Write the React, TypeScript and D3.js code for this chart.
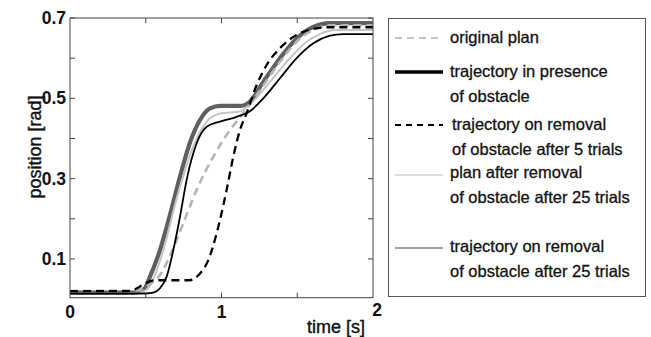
import * as d3 from 'd3';
import React, { useRef, useEffect } from 'react';

// time [s] / position [rad]
const planOriginalT = [0, 0.45, 0.52, 0.594, 0.66, 0.748, 0.836, 0.946, 1.056, 1.144, 1.232, 1.386, 1.496, 1.628, 1.72, 2.0];
const planOriginalV = [0.020, 0.022, 0.035, 0.060, 0.108, 0.189, 0.272, 0.355, 0.421, 0.463, 0.508, 0.591, 0.641, 0.674, 0.682, 0.682];

const trajObstacleT = [0, 0.50, 0.55, 0.594, 0.638, 0.682, 0.726, 0.77, 0.836, 0.902, 0.99, 1.1, 1.188, 1.276, 1.386, 1.496, 1.606, 1.716, 1.80, 2.0];
const trajObstacleV = [0.014, 0.014, 0.016, 0.027, 0.056, 0.122, 0.205, 0.297, 0.388, 0.429, 0.442, 0.454, 0.468, 0.500, 0.550, 0.600, 0.637, 0.656, 0.660, 0.660];

const trajFiveT = [0, 0.40, 0.46, 0.506, 0.56, 0.79, 0.858, 0.913, 0.968, 1.034, 1.078, 1.122, 1.166, 1.232, 1.298, 1.386, 1.496, 1.606, 1.70, 2.0];
const trajFiveV = [0.020, 0.020, 0.031, 0.041, 0.047, 0.047, 0.064, 0.097, 0.164, 0.272, 0.355, 0.421, 0.463, 0.533, 0.583, 0.625, 0.658, 0.673, 0.677, 0.677];

const planTwentyFiveT = [0, 0.44, 0.51, 0.55, 0.616, 0.70, 0.814, 0.902, 0.99, 1.122, 1.188, 1.32, 1.452, 1.562, 1.65, 1.75, 2.0];
const planTwentyFiveV = [0.015, 0.015, 0.025, 0.050, 0.122, 0.245, 0.380, 0.442, 0.462, 0.467, 0.485, 0.541, 0.600, 0.641, 0.660, 0.670, 0.670];

const trajTwentyFiveT = [0, 0.42, 0.49, 0.528, 0.594, 0.66, 0.726, 0.792, 0.858, 0.924, 0.99, 1.122, 1.188, 1.276, 1.386, 1.496, 1.606, 1.716, 2.0];
const trajTwentyFiveV = [0.016, 0.016, 0.025, 0.056, 0.122, 0.21, 0.305, 0.390, 0.446, 0.475, 0.481, 0.481, 0.492, 0.541, 0.600, 0.649, 0.678, 0.687, 0.687];

const yTickLabels = [0.1, 0.3, 0.5, 0.7];
const yTicks = [0.1, 0.2, 0.3, 0.4, 0.5, 0.6, 0.7];
const xTickLabels = [0, 1, 2];
const xTicks = [0.5, 1, 1.5];

const legendLabels = [
    ['original plan'],
    ['trajectory in presence', 'of obstacle'],
    ['trajectory on removal', 'of obstacle after 5 trials'],
    ['plan after removal', 'of obstacle after 25 trials'],
    ['trajectory on removal', 'of obstacle after 25 trials'],
];

function App() {
    const ref = useRef();
    const width = 651, height = 337;
    const margin = { top: 18, right: 278, bottom: 39.3, left: 70 };
    const font = '"Liberation Sans", Arial, sans-serif';

    useEffect(() => {
        draw();
    });

    const draw = () => {
        const svg = d3.select(ref.current)
            .attr('width', width)
            .attr('height', height);
        svg.selectAll('*').remove();

        const x = d3.scaleLinear().domain([0, 2]).range([margin.left, width - margin.right]);
        const y = d3.scaleLinear().domain([0.0035, 0.7]).range([height - margin.bottom, margin.top]);
        const x0 = x.range()[0], x1 = x.range()[1];
        const y0 = y.range()[0], y1 = y.range()[1];

        // series: order = drawing order
        const series = [
            { t: trajTwentyFiveT, v: trajTwentyFiveV, stroke: '#5f5f5f', w: 4.2, dash: null },
            { t: planTwentyFiveT, v: planTwentyFiveV, stroke: '#c4c4c4', w: 2, dash: null },
            { t: planOriginalT, v: planOriginalV, stroke: '#b4b4b4', w: 2.6, dash: '8,5' },
            { t: trajObstacleT, v: trajObstacleV, stroke: '#000', w: 1.8, dash: null },
            { t: trajFiveT, v: trajFiveV, stroke: '#000', w: 2.3, dash: '8,5' },
        ];

        const line = d3.line()
            .x(d => x(d[0]))
            .y(d => y(d[1]))
            .curve(d3.curveMonotoneX);

        const plot = svg.append('g');
        plot.append('defs').append('clipPath').attr('id', 'clip')
            .append('rect').attr('x', x0).attr('y', y1 - 3).attr('width', x1 - x0).attr('height', y0 - y1 + 3);

        series.forEach(s => {
            plot.append('path')
                .attr('d', line(s.t.map((t, i) => [t, s.v[i]])))
                .attr('fill', 'none')
                .attr('stroke', s.stroke)
                .attr('stroke-width', s.w)
                .attr('stroke-dasharray', s.dash)
                .attr('clip-path', 'url(#clip)');
        });

        // frame + inward ticks
        plot.append('rect')
            .attr('x', x0).attr('y', y1)
            .attr('width', x1 - x0).attr('height', y0 - y1)
            .attr('fill', 'none').attr('stroke', '#444').attr('stroke-width', 1);

        const tk = 5;
        yTicks.forEach(v => {
            plot.append('line').attr('x1', x0).attr('x2', x0 + tk).attr('y1', y(v)).attr('y2', y(v)).attr('stroke', '#444');
            plot.append('line').attr('x1', x1).attr('x2', x1 - tk).attr('y1', y(v)).attr('y2', y(v)).attr('stroke', '#444');
        });
        xTicks.forEach(t => {
            plot.append('line').attr('x1', x(t)).attr('x2', x(t)).attr('y1', y0).attr('y2', y0 - tk).attr('stroke', '#444');
            plot.append('line').attr('x1', x(t)).attr('x2', x(t)).attr('y1', y1).attr('y2', y1 + tk).attr('stroke', '#444');
        });

        const labels = svg.append('g')
            .style('font-family', font)
            .attr('fill', '#111');

        labels.selectAll('.ytl')
            .data(yTickLabels)
            .enter().append('text')
            .attr('class', 'ytl')
            .attr('x', x0 - 4)
            .attr('y', d => y(d) + 6)
            .attr('text-anchor', 'end')
            .style('font-size', '17.5px')
            .style('font-weight', 'bold')
            .text(d => d3.format('.1f')(d));

        labels.selectAll('.xtl')
            .data(xTickLabels)
            .enter().append('text')
            .attr('class', 'xtl')
            .attr('x', d => x(d) + (d === 2 ? 4 : 0))
            .attr('y', d => (d === 2 ? 316 : 318))
            .attr('text-anchor', 'middle')
            .style('font-size', '17.5px')
            .style('font-weight', 'bold')
            .text(d => d);

        labels.append('text')
            .attr('x', 365)
            .attr('y', 333)
            .attr('text-anchor', 'end')
            .style('font-size', '18px')
            .attr('stroke', '#111').attr('stroke-width', 0.4)
            .text('time [s]');

        labels.append('text')
            .attr('transform', 'translate(41,147) rotate(-90)')
            .attr('text-anchor', 'middle')
            .style('font-size', '18px')
            .attr('stroke', '#111').attr('stroke-width', 0.4)
            .text('position [rad]');

        // legend
        const lg = svg.append('g').style('font-family', font);
        lg.append('rect')
            .attr('x', 388.5).attr('y', 18.5)
            .attr('width', 257).attr('height', 278)
            .attr('fill', 'white').attr('stroke', '#555');

        const legendSamples = [
            { stroke: '#b0b0b0', w: 1.6, dash: '7,5', y: 38 },
            { stroke: '#000', w: 3.5, dash: null, y: 72 },
            { stroke: '#000', w: 2, dash: '6,5', y: 125 },
            { stroke: '#d0d0d0', w: 1.6, dash: null, y: 175 },
            { stroke: '#a0a0a0', w: 2, dash: null, y: 248 },
        ];
        const textTop = [43, 77, 130, 178, 252];
        const textX = [450, 450, 452, 450, 450];

        legendSamples.forEach((s, i) => {
            lg.append('line')
                .attr('x1', 395).attr('x2', 443)
                .attr('y1', s.y).attr('y2', s.y)
                .attr('stroke', s.stroke)
                .attr('stroke-width', s.w)
                .attr('stroke-dasharray', s.dash);
            legendLabels[i].forEach((txt, j) => {
                lg.append('text')
                    .attr('x', textX[i])
                    .attr('y', textTop[i] + j * 25)
                    .style('font-size', '16.5px')
                    .attr('fill', '#111')
                    .attr('stroke', '#111').attr('stroke-width', 0.3)
                    .text(txt);
            });
        });
    };

    return (
        <div className="chart">
            <svg ref={ref} style={{ position: 'absolute', left: 0, top: 0, background: 'white' }}></svg>
        </div>
    );
}

export default App;
